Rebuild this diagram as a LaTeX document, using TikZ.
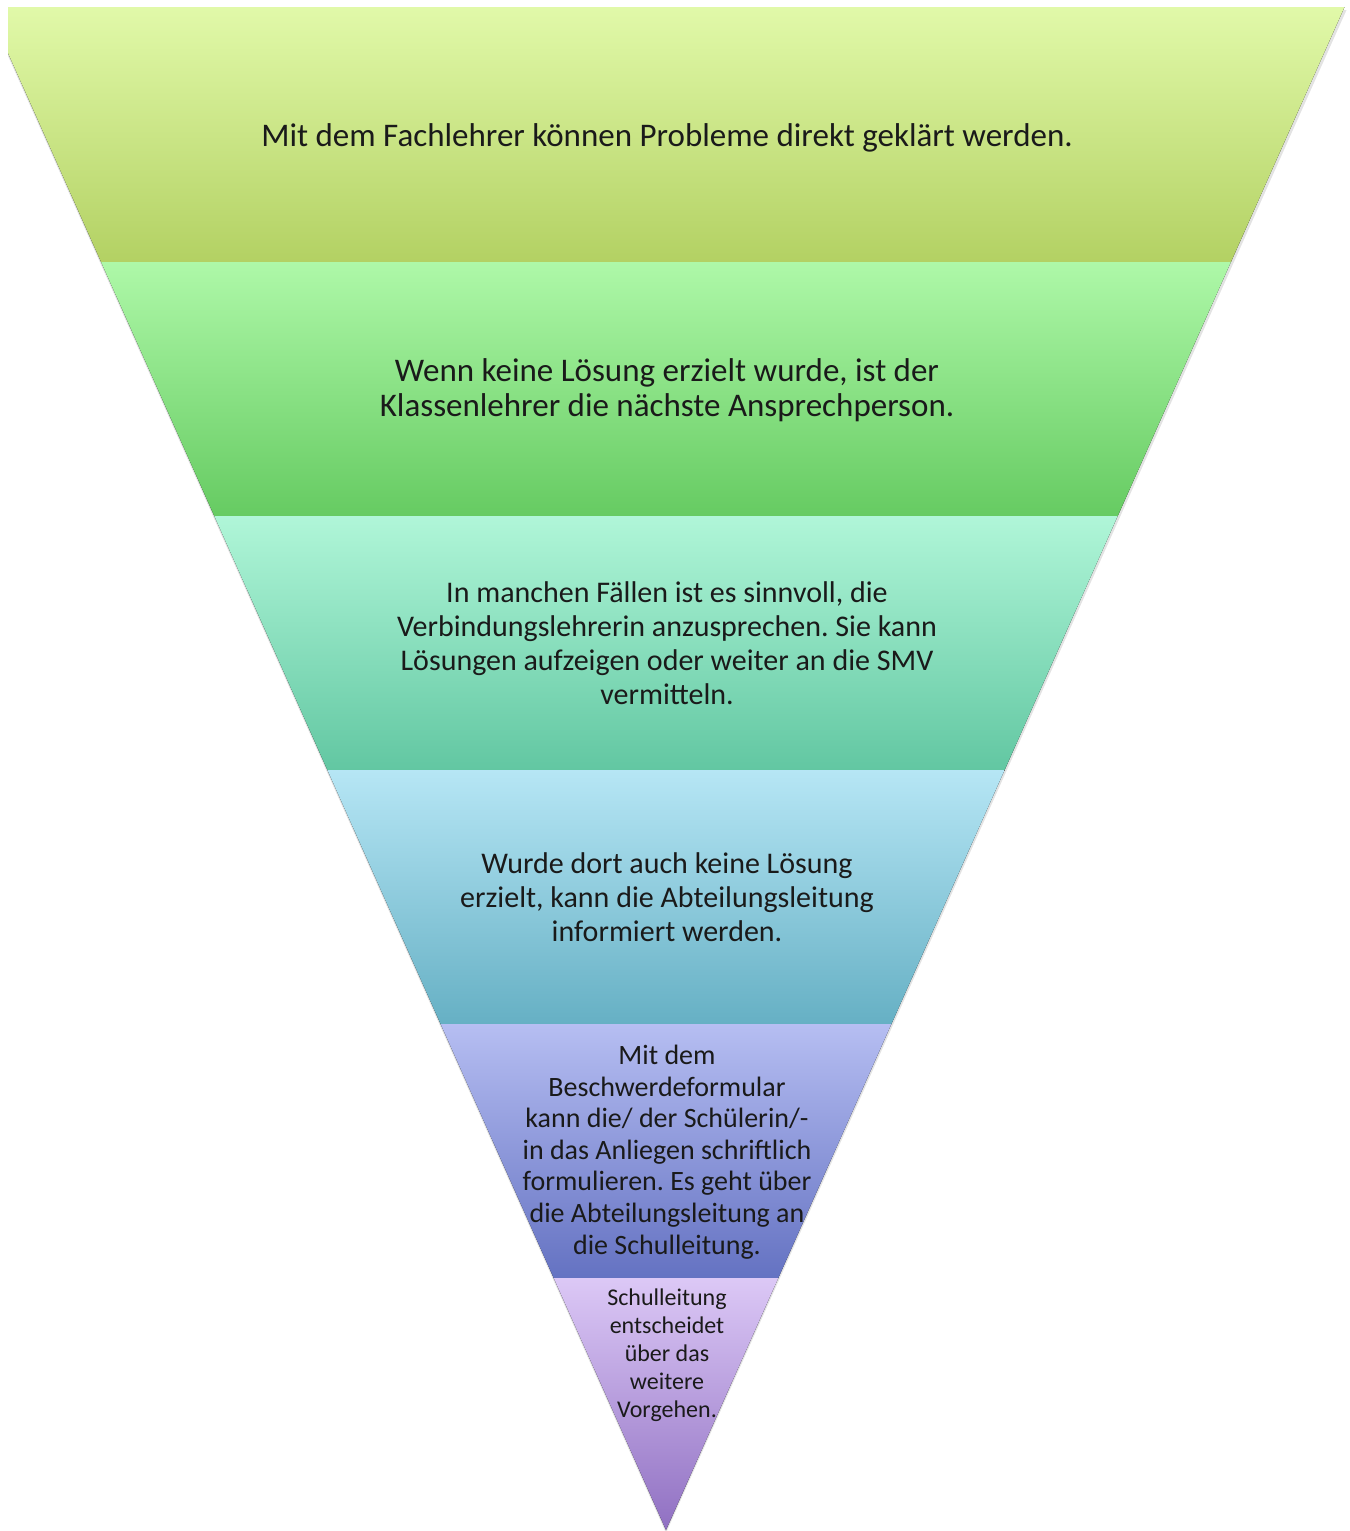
\documentclass[tikz,border=0pt]{standalone}
\usepackage{fontspec}
\setmainfont{Carlito}
\usepackage{xcolor}
\usepackage{tikz}
\frenchspacing

\definecolor{lvlAtop}{HTML}{E1F9A9}
\definecolor{lvlAbot}{HTML}{B3D163}
\definecolor{lvlBtop}{HTML}{AEF8A8}
\definecolor{lvlBbot}{HTML}{66CB62}
\definecolor{lvlCtop}{HTML}{B0F6D8}
\definecolor{lvlCbot}{HTML}{62C7A2}
\definecolor{lvlDtop}{HTML}{B6E6F5}
\definecolor{lvlDbot}{HTML}{66B0C4}
\definecolor{lvlEtop}{HTML}{B6BEF2}
\definecolor{lvlEbot}{HTML}{6472C2}
\definecolor{lvlFtop}{HTML}{DCC8F6}
\definecolor{lvlFbot}{HTML}{9070C2}
\definecolor{txt}{HTML}{1A1A1A}

\tikzset{
  bigtext/.style={align=center,text=txt,font=\fontsize{16.5}{17.5}\selectfont,inner sep=0pt},
  lvltext/.style={align=center,text=txt,font=\fontsize{15}{17}\selectfont,inner sep=0pt},
  smalltext/.style={align=center,text=txt,font=\fontsize{14}{15.8}\selectfont,inner sep=0pt},
  tinytext/.style={align=center,text=txt,font=\fontsize{12}{14}\selectfont,inner sep=0pt}
}

\begin{document}
\begin{tikzpicture}[x=0.5pt,y=-0.5pt]
  \useasboundingbox (0,0) rectangle (1349,1531);
  \begin{scope}
    \clip (8,0) rectangle (1349,1531);
    % shadow
    \fill[gray!22] (-12.5,10) -- (1346.5,10) -- (666,1533) -- cycle;
    % levels
    \fill[top color=lvlAtop,bottom color=lvlAbot] (-12.5,7) -- (1344.5,7) -- (1230.9,262) -- (101.1,262) -- cycle;
    \fill[top color=lvlBtop,bottom color=lvlBbot] (101.1,262) -- (1230.9,262) -- (1117.7,516) -- (214.3,516) -- cycle;
    \fill[top color=lvlCtop,bottom color=lvlCbot] (214.3,516) -- (1117.7,516) -- (1004.6,770) -- (327.4,770) -- cycle;
    \fill[top color=lvlDtop,bottom color=lvlDbot] (327.4,770) -- (1004.6,770) -- (891.4,1024) -- (440.6,1024) -- cycle;
    \fill[top color=lvlEtop,bottom color=lvlEbot] (440.6,1024) -- (891.4,1024) -- (778.3,1278) -- (553.7,1278) -- cycle;
    \fill[top color=lvlFtop,bottom color=lvlFbot] (553.7,1278) -- (778.3,1278) -- (666,1530) -- cycle;
  \end{scope}

  \node[bigtext](fach) at (667,138){Mit dem Fachlehrer können Probleme direkt geklärt werden.};
  \node[bigtext](klasse) at (667,390){Wenn keine Lösung erzielt wurde, ist der\\Klassenlehrer die nächste Ansprechperson.};
  \node[lvltext](verb) at (667,643){In manchen Fällen ist es sinnvoll, die\\Verbindungslehrerin anzusprechen. Sie kann\\Lösungen aufzeigen oder weiter an die SMV\\vermitteln.};
  \node[lvltext](abt) at (667,897){Wurde dort auch keine Lösung\\erzielt, kann die Abteilungsleitung\\informiert werden.};
  \node[smalltext](formular) at (667,1152){Mit dem\\Beschwerdeformular\\kann die/ der Schülerin/-\\in das Anliegen schriftlich\\formulieren. Es geht über\\die Abteilungsleitung an\\die Schulleitung.};
  \node[tinytext](schul) at (667,1355){Schulleitung\\entscheidet\\über das\\weitere\\Vorgehen.};
\end{tikzpicture}
\end{document}
